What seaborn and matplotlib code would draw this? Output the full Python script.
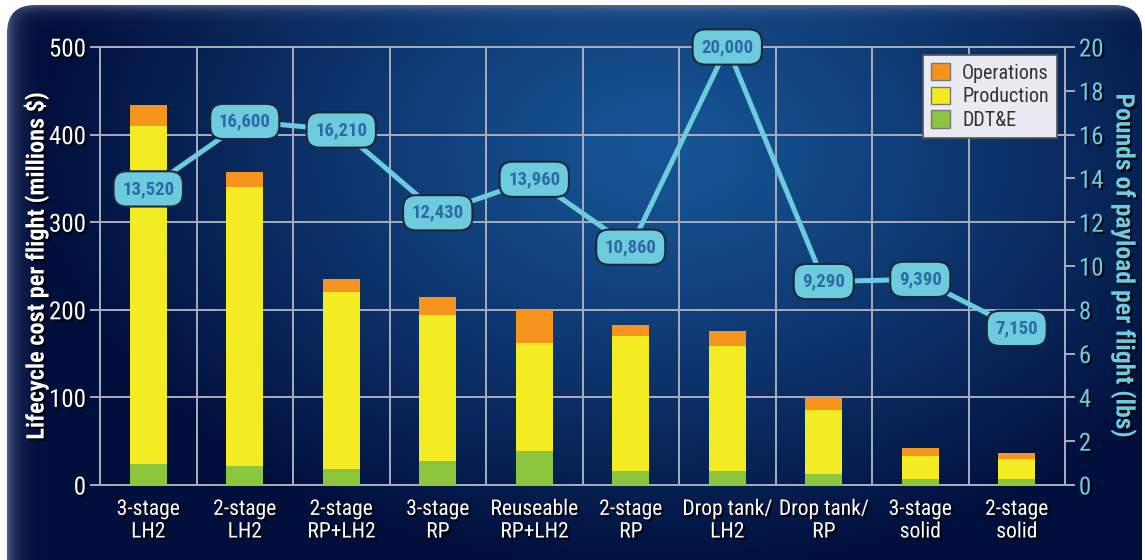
import numpy as np
import pandas as pd
import matplotlib
matplotlib.use("Agg")
import matplotlib.pyplot as plt
import matplotlib.patheffects as pe
from matplotlib.patches import FancyBboxPatch, Patch
import seaborn as sns

# ---- data -------------------------------------------------------------
vehicles = ["3-stage\nLH2", "2-stage\nLH2", "2-stage\nRP+LH2", "3-stage\nRP",
            "Reuseable\nRP+LH2", "2-stage\nRP", "Drop tank/\nLH2", "Drop tank/\nRP",
            "3-stage\nsolid", "2-stage\nsolid"]
ddte = [24, 22, 18, 27, 39, 16, 16, 13, 7, 7]            # millions $
production = [386, 318, 202, 167, 123, 154, 143, 73, 26, 23]
operations = [24, 17, 15, 21, 38, 13, 17, 14, 9, 6.5]
payload_lbs = [13520, 16600, 16210, 12430, 13960, 10860, 20000, 9290, 9390, 7150]

cost_ticks = [0, 100, 200, 300, 400, 500]
payload_ticks = [0, 2, 4, 6, 8, 10, 12, 14, 16, 18, 20]

ORANGE = "#f7941d"
YELLOW = "#f4ec22"
GREEN = "#8cc63f"
CYAN = "#6ccbdc"
GRID = "#a9adbd"

sns.set_theme(style="dark")
plt.rcParams["font.family"] = ["Roboto Condensed", "DejaVu Sans"]

W, H = 1145, 560
fig = plt.figure(figsize=(W / 100, H / 100), dpi=100)
fig.patch.set_facecolor("white")

# ---- rounded navy panel with a soft radial glow ---------------------------
bg = fig.add_axes([0, 0, 1, 1])
bg.set_xlim(0, W)
bg.set_ylim(H, 0)
bg.axis("off")
yy, xx = np.mgrid[0:H, 0:W]
r = np.sqrt(((xx - 660) / 620.0) ** 2 + ((yy - 150) / 420.0) ** 2)
t = np.clip(r, 0, 1) ** 1.2
c_in = np.array([0x17, 0x55, 0x96]) / 255.0
c_out = np.array([0x01, 0x0f, 0x3c]) / 255.0
img = c_in[None, None, :] * (1 - t[..., None]) + c_out[None, None, :] * t[..., None]
# bevel highlights along the top and left edges
edge_l = np.exp(-np.clip(xx - 7, 0, None) / 9.0)[..., None]
edge_t = np.exp(-np.clip(yy - 5, 0, None) / 6.0)[..., None]
hl = np.array([0.55, 0.6, 0.75])
img = img * (1 - 0.55 * edge_l) + hl * 0.55 * edge_l
img = img * (1 - 0.45 * edge_t) + hl * 0.45 * edge_t
im = bg.imshow(img, extent=(0, W, H, 0), aspect="auto", zorder=0)
panel = FancyBboxPatch((7, 5), W - 10, 620, boxstyle="round,pad=0,rounding_size=28",
                       transform=bg.transData, facecolor="none", edgecolor="none")
bg.add_patch(panel)
im.set_clip_path(panel)

# ---- main axes ----------------------------------------------------------
x0, x1, y_top, y_bot = 100, 1065, 47, 485
ax = fig.add_axes([x0 / W, (H - y_bot) / H, (x1 - x0) / W, (y_bot - y_top) / H])
ax.set_facecolor("none")

df = pd.DataFrame({"vehicle": vehicles, "ddte": ddte,
                   "production": production, "operations": operations})
df["top_prod"] = df["ddte"] + df["production"]
df["total"] = df["top_prod"] + df["operations"]

for col, colr in [("total", ORANGE), ("top_prod", YELLOW), ("ddte", GREEN)]:
    sns.barplot(data=df, x="vehicle", y=col, color=colr, saturation=1,
                width=0.385, ax=ax, zorder=3, linewidth=0)

ax.set_xlim(-0.5, len(vehicles) - 0.5)
ax.set_ylim(0, 500)
ax.set_yticks(cost_ticks)
ax.set_xticks(np.arange(-0.5, len(vehicles), 1), minor=True)
ax.grid(False)
ax.grid(True, which="minor", axis="x", color=GRID, lw=1.4, zorder=1)
ax.grid(True, which="major", axis="y", color=GRID, lw=1.4, zorder=1)
ax.set_axisbelow(True)
for s in ax.spines.values():
    s.set_visible(True)
    s.set_color(GRID)
    s.set_linewidth(1.4)

shadow = [pe.SimplePatchShadow(offset=(1.5, -1.5), shadow_rgbFace="black", alpha=0.9),
          pe.Normal()]

ax.tick_params(axis="x", which="major", length=0, pad=10, labelsize=15.5, colors="white")
ax.tick_params(axis="x", which="minor", length=7, width=1.4, color=GRID, direction="out")
ax.tick_params(axis="y", which="major", length=7, width=1.4, color=GRID,
               direction="out", labelsize=18, labelcolor="white", pad=3)
for lab in ax.get_xticklabels() + ax.get_yticklabels():
    lab.set_path_effects(shadow)
    lab.set_linespacing(1.1)
ax.set_xlabel("")
ax.set_ylabel("Lifecycle cost per flight (millions $)", color="white",
              fontsize=17.5, fontweight="bold", labelpad=0)
ax.yaxis.label.set_path_effects(shadow)

# ---- payload line on the secondary axis ----------------------------------
ax2 = ax.twinx()
ax2.set_facecolor("none")
pay_k = [p / 1000 for p in payload_lbs]
pos = np.arange(len(vehicles))
sns.lineplot(x=pos, y=pay_k, ax=ax2, color=CYAN, lw=3.6, zorder=4)
ax2.set_ylim(0, 20)
ax2.set_yticks(payload_ticks)
ax2.grid(False)
for s in ax2.spines.values():
    s.set_visible(False)
ax2.tick_params(axis="y", length=7, width=1.4, color=GRID, direction="out",
                labelsize=18, labelcolor=CYAN, pad=3)
for lab in ax2.get_yticklabels():
    lab.set_path_effects(shadow)
ax2.set_ylabel("Pounds of payload per flight (lbs)", color=CYAN, fontsize=18.5,
               fontweight="bold", rotation=270, labelpad=24)
ax2.yaxis.label.set_path_effects(shadow)

for xi, v in zip(pos, payload_lbs):
    ax2.text(xi, v / 1000, f"{v:,}", ha="center", va="center", fontsize=13.5,
             fontweight="bold", color="#2e6aa6", zorder=6,
             bbox=dict(boxstyle="round,pad=0.46,rounding_size=0.7", fc=CYAN,
                       ec="#1c2838", lw=1.5))

# ---- legend --------------------------------------------------------------
handles = [Patch(fc=ORANGE, ec="#777777", lw=1), Patch(fc=YELLOW, ec="#777777", lw=1),
           Patch(fc=GREEN, ec="#777777", lw=1)]
leg = ax2.legend(handles, ["Operations", "Production", "DDT&E"], loc="upper right",
                 bbox_to_anchor=(1 - 8 / 965, 1 - 8 / 438), borderaxespad=0,
                 fontsize=14.5, frameon=True, fancybox=False, framealpha=1,
                 edgecolor="#555555", handlelength=0.95, handleheight=0.95,
                 handletextpad=0.6, labelspacing=0.2, borderpad=0.4)
leg.get_frame().set_linewidth(1.2)
leg.set_zorder(10)
for txt in leg.get_texts():
    txt.set_color("#333333")

fig.savefig("out.png", dpi=100, facecolor=fig.get_facecolor())
